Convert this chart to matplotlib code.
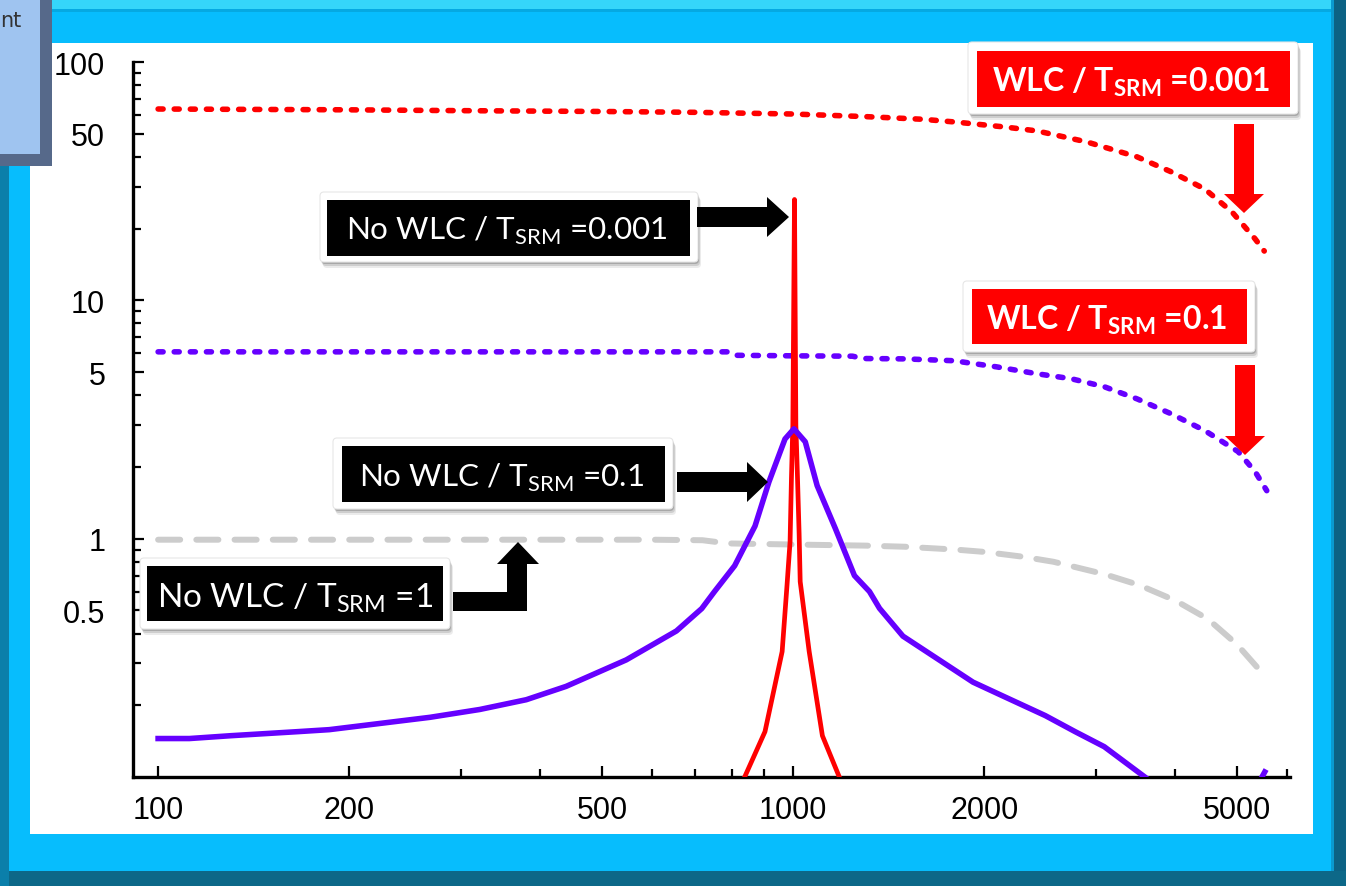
import matplotlib
matplotlib.use('Agg')
import numpy as np
import matplotlib.pyplot as plt
from matplotlib.patches import Rectangle, Polygon, FancyBboxPatch

# ---- curves (frequency vs. response, log-log) ----
wlc_0001_x = [100, 200, 300, 500, 700, 1000, 1300, 1600, 1800, 2150, 2420, 2900, 3480, 3940, 4450, 4910, 5340, 5520]
wlc_0001_y = [63.5, 63, 62.5, 62, 61.5, 60.5, 59, 57.5, 56, 53.4, 51.4, 46.2, 40.0, 34.6, 29.3, 23.5, 18.1, 16.1]

wlc_01_x = [100, 200, 400, 600, 790, 810, 1000, 1240, 1290, 1500, 1790, 2090, 2420, 2740, 3090, 3480, 3940, 4450, 5020, 5340, 5570]
wlc_01_y = [6.08, 6.08, 6.08, 6.08, 6.08, 5.88, 5.85, 5.83, 5.70, 5.68, 5.58, 5.26, 4.92, 4.69, 4.34, 3.86, 3.34, 2.84, 2.32, 1.91, 1.59]

nowlc_1_x = [100, 300, 600, 720, 790, 1000, 1300, 1500, 1800, 2000, 2300, 2570, 3090, 3500, 4000, 4500, 5000, 5500]
nowlc_1_y = [0.99, 0.99, 0.99, 0.985, 0.955, 0.945, 0.935, 0.925, 0.90, 0.88, 0.84, 0.80, 0.71, 0.64, 0.55, 0.46, 0.36, 0.27]

nowlc_01_x = [100, 112, 130, 166, 186, 268, 321, 380, 439, 546, 655, 718, 752, 809, 871, 916, 971, 1003,
              1045, 1091, 1166, 1249, 1319, 1368, 1489, 1730, 1920, 2145, 2495, 2780, 3090, 3580, 3800,
              np.nan, 5440, 5530]
nowlc_01_y = [0.145, 0.145, 0.149, 0.155, 0.158, 0.178, 0.192, 0.211, 0.24, 0.31, 0.41, 0.509, 0.60, 0.77, 1.13, 1.73, 2.62, 2.89,
              2.55, 1.67, 1.10, 0.70, 0.60, 0.51, 0.39, 0.30, 0.25, 0.218, 0.181, 0.155, 0.134, 0.10, 0.088,
              np.nan, 0.097, 0.105]

nowlc_0001_x = [836, 903, 961, 978, 989, 994, 999, 1005, 1010, 1016, 1022, 1026, 1060, 1112, 1186]
nowlc_0001_y = [0.098, 0.155, 0.336, 0.635, 0.97, 1.8, 3.0, 26.5, 3.0, 1.8, 1.05, 0.66, 0.336, 0.149, 0.098]

x_ticks = [100, 200, 500, 1000, 2000, 5000]
x_labels = ['100', '200', '500', '1000', '2000', '5000']
y_ticks = [0.5, 1, 5, 10, 50, 100]
y_labels = ['0.5', '1', '5', '10', '50', '100']

RED = '#FF0000'
VIOLET = '#6600FF'
GRAY = '#CCCCCC'
CYAN = '#07BDFD'

plt.rcParams['font.family'] = ['Lato', 'DejaVu Sans']
plt.rcParams['mathtext.fontset'] = 'custom'
plt.rcParams['mathtext.rm'] = 'Lato'
plt.rcParams['mathtext.bf'] = 'Lato:bold'

W, H = 1346, 887
fig = plt.figure(figsize=(W / 100, H / 100), dpi=100, facecolor=CYAN)

# background frame, drawn in pixel units
bg = fig.add_axes([0, 0, 1, 1], zorder=0)
bg.set_xlim(0, W)
bg.set_ylim(H, 0)
bg.axis('off')
bg.add_patch(Rectangle((0, 0), W, 10, color='#35D6FA', lw=0))
bg.add_patch(Rectangle((0, 10), W, 3, color='#05A9E2', lw=0))
bg.add_patch(Rectangle((1333, 0), 13, H, color='#0C6284', lw=0))
bg.add_patch(Rectangle((1331, 0), 3, H, color='#0A9AD0', lw=0))
bg.add_patch(Rectangle((0, 872), W, 15, color='#0D6888', lw=0))
bg.add_patch(Rectangle((0, 0), 9, H, color='#0B7FAA', lw=0))
bg.add_patch(Rectangle((30, 44), 1283, 791, color='white', lw=0))

# partly hidden text box in the corner
bg.add_patch(Rectangle((0, 0), 52, 167, color='#56698A', lw=0))
bg.add_patch(Rectangle((0, 0), 40, 155, color='#9FC4F0', lw=0))
bg.text(21, 27, 'nt', ha='right', va='baseline', fontsize=15, color='#333333',
        family='DejaVu Sans')

# main log-log plot
ax = fig.add_axes([133 / W, 1 - 778 / H, (1290 - 133) / W, (778 - 63) / H], zorder=1)
ax.patch.set_visible(False)
ax.set_xscale('log')
ax.set_yscale('log')

ax.plot(wlc_0001_x, wlc_0001_y, color=RED, lw=4.0, ls=(0, (0.9, 2.0)),
        dash_capstyle='round', zorder=2)
ax.plot(wlc_01_x, wlc_01_y, color=VIOLET, lw=4.0, ls=(0, (0.9, 2.0)),
        dash_capstyle='round', zorder=2)
ax.plot(nowlc_1_x, nowlc_1_y, color=GRAY, lw=4.3, ls=(0, (3.7, 2.7)),
        dash_capstyle='round', zorder=3)
ax.plot(nowlc_0001_x, nowlc_0001_y, color=RED, lw=3.4, solid_joinstyle='round', zorder=4)
ax.plot(nowlc_01_x, nowlc_01_y, color=VIOLET, lw=4.0, solid_joinstyle='round', zorder=5)

ax.set_xlim(91.3, 6060)
ax.set_ylim(0.1, 100)
for side in ['top', 'right']:
    ax.spines[side].set_visible(False)
for side in ['left', 'bottom']:
    ax.spines[side].set_linewidth(2.4)

ax.set_xticks(x_ticks, x_labels)
ax.set_yticks(y_ticks, y_labels)
ax.xaxis.set_minor_locator(matplotlib.ticker.LogLocator(subs=np.arange(2, 10)))
ax.yaxis.set_minor_locator(matplotlib.ticker.LogLocator(subs=np.arange(2, 10)))
ax.xaxis.set_minor_formatter(matplotlib.ticker.NullFormatter())
ax.yaxis.set_minor_formatter(matplotlib.ticker.NullFormatter())
ax.tick_params(which='major', direction='in', length=8, width=1.6, labelsize=22)
ax.tick_params(which='minor', direction='in', length=5.5, width=1.6)
ax.tick_params(axis='y', which='major', pad=20)
ax.tick_params(axis='x', which='major', pad=13)
for lbl in ax.get_xticklabels() + ax.get_yticklabels():
    lbl.set_fontfamily('Liberation Sans')

# annotation layer, pixel units
ov = fig.add_axes([0, 0, 1, 1], zorder=3)
ov.set_xlim(0, W)
ov.set_ylim(H, 0)
ov.axis('off')


def label_box(frame, fill, color):
    x0, y0, x1, y1 = frame
    for k, a in [(6, 0.08), (4, 0.12), (2, 0.18)]:
        ov.add_patch(FancyBboxPatch((x0 + k / 2, y0 + k), x1 - x0, y1 - y0,
                                    boxstyle='round,pad=0,rounding_size=4',
                                    fc='black', ec='none', alpha=a))
    ov.add_patch(FancyBboxPatch((x0, y0), x1 - x0, y1 - y0,
                                boxstyle='round,pad=0,rounding_size=4',
                                fc='white', ec='#E6E6E6', lw=0.8))
    fx0, fy0, fx1, fy1 = fill
    ov.add_patch(Rectangle((fx0, fy0), fx1 - fx0, fy1 - fy0, color=color, lw=0))


def arrow_right(x0, x1, xt, yc, hs, hh):
    ov.add_patch(Polygon([(x0, yc - hs), (x1, yc - hs), (x1, yc - hh), (xt, yc),
                          (x1, yc + hh), (x1, yc + hs), (x0, yc + hs)],
                         closed=True, fc='black', ec='none'))


def arrow_down(xc, y0, y1, yt, hs, hh, color):
    ov.add_patch(Polygon([(xc - hs, y0), (xc + hs, y0), (xc + hs, y1), (xc + hh, y1),
                          (xc, yt), (xc - hh, y1), (xc - hs, y1)],
                         closed=True, fc=color, ec='none'))


# black labels: no wavelength compensation
label_box((320, 193, 698, 263), (327, 201, 690, 257), 'black')
ov.text(507, 240, r'No WLC / T$_{\mathrm{SRM}}$ =0.001', color='white', fontsize=22.6,
        ha='center', va='baseline')
arrow_right(697, 767, 789, 218, 10, 20)

label_box((333, 439, 673, 510), (342, 447, 665, 503), 'black')
ov.text(502, 487, r'No WLC / T$_{\mathrm{SRM}}$ =0.1', color='white', fontsize=22.6,
        ha='center', va='baseline')
arrow_right(677, 747, 768, 483, 10, 20)

label_box((140, 559, 450, 630), (147, 567, 443, 622), 'black')
ov.text(295, 607, r'No WLC / T$_{\mathrm{SRM}}$ =1', color='white', fontsize=24,
        ha='center', va='baseline')
ov.add_patch(Polygon([(453, 593), (507, 593), (507, 565), (497, 565), (518, 543),
                      (539, 565), (527, 565), (527, 612), (453, 612)],
                     closed=True, fc='black', ec='none'))

# red labels: with wavelength compensation
label_box((968, 43, 1298, 115), (977, 52, 1290, 108), RED)
ov.text(1131, 92, r'WLC / T$_{\mathbf{SRM}}$ =0.001', color='white', fontsize=23,
        fontweight='bold', ha='center', va='baseline')
arrow_down(1244, 125, 195, 214, 10, 20, RED)

label_box((963, 282, 1255, 353), (972, 290, 1247, 345), RED)
ov.text(1107, 330, r'WLC / T$_{\mathbf{SRM}}$ =0.1', color='white', fontsize=23,
        fontweight='bold', ha='center', va='baseline')
arrow_down(1245, 366, 437, 456, 10, 20, RED)

fig.savefig('out.png', dpi=100, facecolor=CYAN)
